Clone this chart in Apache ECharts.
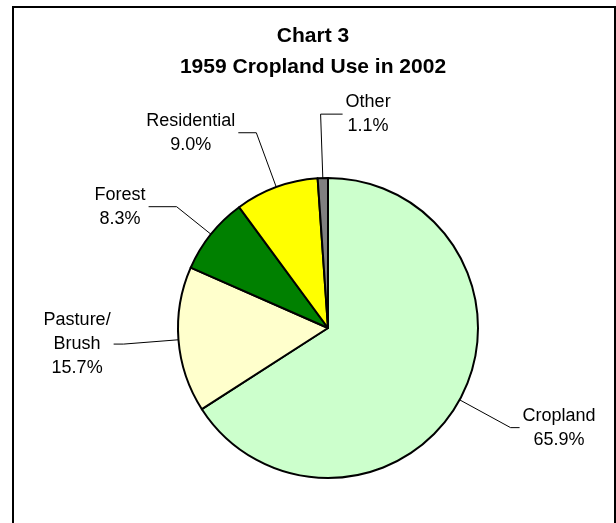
<!DOCTYPE html>
<html>
<head>
<meta charset="utf-8">
<script src="https://cdn.jsdelivr.net/npm/echarts@6/dist/echarts.min.js"></script>
<style>
html,body{margin:0;padding:0;background:#fff;}
#chart{width:616px;height:523px;}
</style>
</head>
<body>
<div id="chart"></div>
<script>
const categories = ['Cropland', 'Pasture/\nBrush', 'Forest', 'Residential', 'Other'];
const shares = [65.9, 15.7, 8.3, 9.0, 1.1];
const sliceColors = ['#CCFFCC', '#FFFFCC', '#008000', '#FFFF00', '#808080'];
const titleLines = ['Chart 3', '1959 Cropland Use in 2002'];
// leader line styling per slice [first segment, horizontal segment]
const leaderLengths = [[58, 9], [55, 10], [44, 28], [58, 18], [64, 22]];

const chart = echarts.init(document.getElementById('chart'), null, {renderer: 'canvas'});
const FONT = 'Arial, "Liberation Sans", sans-serif';
const GAP = 3;

const option = {
  backgroundColor: '#fff',
  animation: false,
  graphic: [{
    type: 'rect',
    shape: {x: 13, y: 7, width: 602, height: 620},
    style: {fill: 'none', stroke: '#000', lineWidth: 2},
    silent: true, z: -1
  }],
  title: {
    text: titleLines.join('\n'),
    left: 313,
    top: 21,
    padding: 0,
    textAlign: 'center',
    textStyle: {fontFamily: FONT, fontSize: 21, fontWeight: 'bold', lineHeight: 31, color: '#000'}
  },
  series: [{
    type: 'pie',
    center: [328, 328],
    radius: 150,
    startAngle: 90,
    clockwise: true,
    avoidLabelOverlap: false,
    data: categories.map((c, i) => ({
      name: c, value: shares[i],
      itemStyle: {color: sliceColors[i]},
      labelLine: {length: leaderLengths[i][0], length2: leaderLengths[i][1]}
    })),
    itemStyle: {borderColor: '#000', borderWidth: 2},
    label: {
      show: true,
      position: 'outside',
      formatter: p => p.name + '\n' + p.value.toFixed(1) + '%',
      fontFamily: FONT,
      fontSize: 18,
      lineHeight: 24,
      color: '#000',
      align: 'center'
    },
    labelLine: {show: true, length: 58, length2: 9, lineStyle: {color: '#000', width: 1}},
    labelLayout: function (params) {
      const pts = params.labelLinePoints;
      if (!pts) return {};
      const p = pts.map(q => [q[0], q[1]]);
      let dir = p[2][0] >= p[1][0] ? 1 : -1;
      if (params.dataIndex === categories.length - 1 && dir < 0) {
        // small top slice: label set to the right side
        p[2][0] = p[1][0] + (p[1][0] - p[2][0]);
        dir = 1;
      }
      const w = params.labelRect.width;
      return {
        x: p[2][0] + dir * (GAP + w / 2),
        y: p[2][1],
        align: 'center',
        verticalAlign: 'middle',
        labelLinePoints: p
      };
    },
    emphasis: {disabled: true}
  }]
};
chart.setOption(option);
</script>
</body>
</html>
